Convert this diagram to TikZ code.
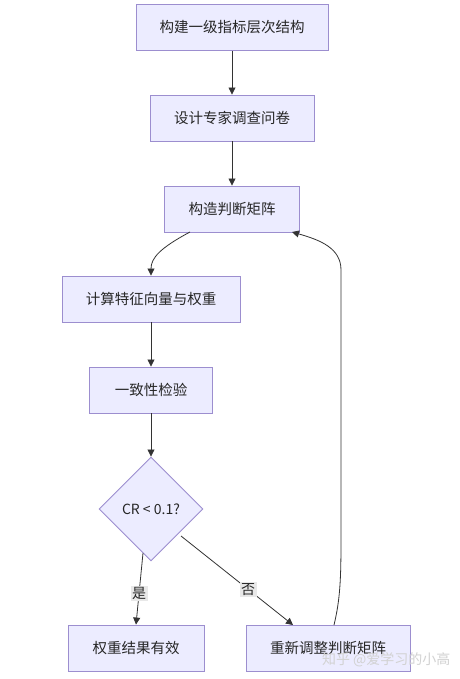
\documentclass[tikz,border=0pt]{standalone}
\usepackage{fontspec}
\newfontfamily\cjk{Noto Sans CJK SC}
\setmainfont{Noto Sans CJK SC}
\usetikzlibrary{arrows.meta,shapes.geometric}
\definecolor{boxfill}{HTML}{ECECFF}
\definecolor{boxline}{HTML}{9C8ECF}
\definecolor{edge}{HTML}{333333}
\definecolor{lblbg}{HTML}{E8E8E8}
\tikzset{
  procbox/.style={draw=boxline, fill=boxfill, line width=0.9pt, minimum height=46pt, inner sep=0pt, font=\fontsize{14.5}{16}\selectfont, text=black!85},
  decbox/.style={draw=boxline, fill=boxfill, line width=0.9pt, diamond, minimum width=104pt, minimum height=104pt, inner sep=0pt, font=\fontsize{14}{16}\selectfont, text=black!85},
  conn/.style={draw=edge, line width=0.8pt, -{Triangle[length=7pt,width=7pt]}},
  lbl/.style={fill=lblbg, inner sep=1.5pt, font=\fontsize{14}{16}\selectfont, text=black!85},
}
\begin{document}
\begin{tikzpicture}[x=1pt,y=-1pt]
\useasboundingbox[fill=white] (0,0) rectangle (459,679);
\node[procbox, minimum width=192pt] (n1) at (232,27.5) {构建一级指标层次结构};
\node[procbox, minimum width=164pt] (n2) at (232,118) {设计专家调查问卷};
\node[procbox, minimum width=135pt] (n3) at (232,209) {构造判断矩阵};
\node[procbox, minimum width=178pt] (n4) at (151,299) {计算特征向量与权重};
\node[procbox, minimum width=123pt] (n5) at (151,390) {一致性检验};
\node[decbox] (d) at (151,509) {CR < 0.1?};
\node[procbox, minimum width=136pt] (n6) at (136,648) {权重结果有效};
\node[procbox, minimum width=164pt] (n7) at (328,648) {重新调整判断矩阵};
\coordinate (c3a) at (190,232);
\coordinate (c3b) at (292,232);
\coordinate (c7) at (334,625);
\coordinate (c7b) at (293,625);
\coordinate (dl) at (143,553);
\coordinate (dr) at (181,536);
\draw[conn] (n1) -- (n2);
\draw[conn] (n2) -- (n3);
\draw[conn] (c3a) .. controls (160,248) and (151,258) .. (n4.north);
\draw[conn] (n4) -- (n5);
\draw[conn] (n5) -- (d);
\draw[conn] (dl) -- node[lbl, pos=0.57] (ly) {是} (n6.north);
\draw[conn] (dr) -- node[lbl, pos=0.6] (ln) {否} (c7b);
\draw[conn] (c7) .. controls (340,600) and (341,580) .. (341,540) -- (341,270) .. controls (341,248) and (320,240) .. (c3b);
\node[text=white!65!gray, font=\fontsize{14}{15}\selectfont, anchor=east] (wm) at (454,660) {知乎 @爱学习的小高};
\end{tikzpicture}
\end{document}
